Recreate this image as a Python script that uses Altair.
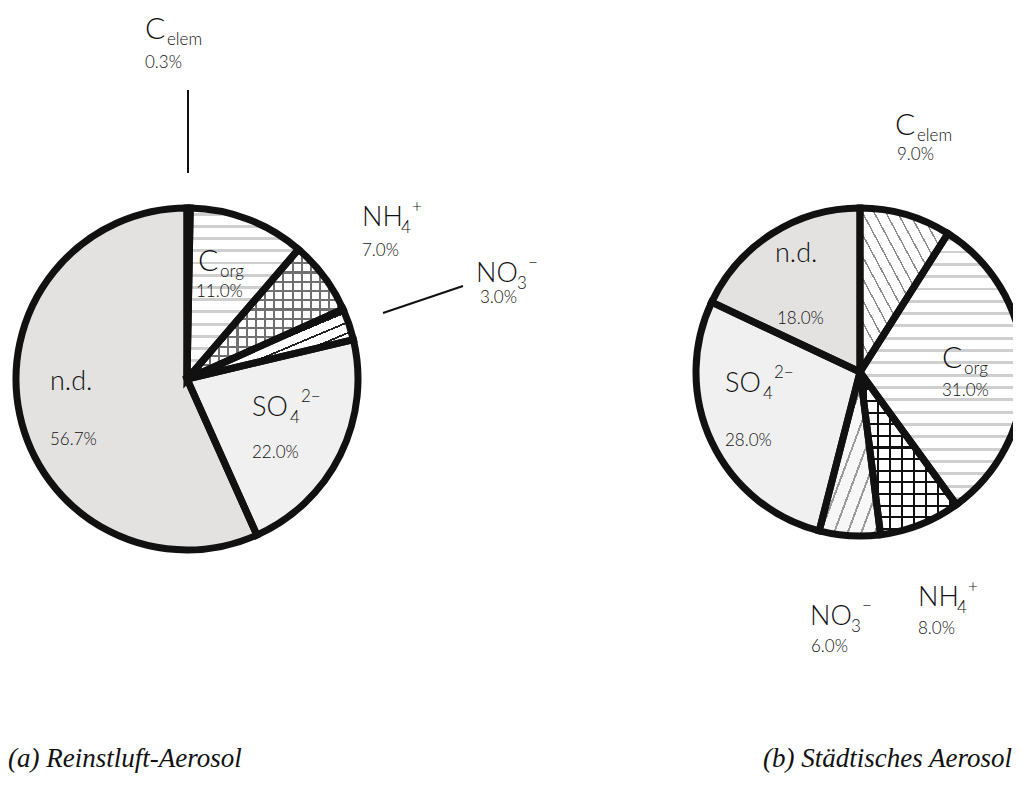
import math
import altair as alt
import pandas as pd

# ------------------------------------------------------------------ data
components = ["C_elem", "C_org", "NH4+", "NO3-", "SO4 2-", "n.d."]
reinstluft_pct = [0.3, 11.0, 7.0, 3.0, 22.0, 56.7]
staedtisch_pct = [9.0, 31.0, 8.0, 6.0, 28.0, 18.0]
panel_ids = ["a", "b"]
captions = ["(a) Reinstluft-Aerosol", "(b) Städtisches Aerosol"]

# label text split into main / subscript / superscript
label_parts = {
    "C_elem": ("C", "elem", ""),
    "C_org": ("C", "org", ""),
    "NH4+": ("NH", "4", "+"),
    "NO3-": ("NO", "3", "\u2212"),
    "SO4 2-": ("SO", "4", "2\u2212"),
    "n.d.": ("n.d.", "", ""),
}

rows = []
for pid, vals in zip(panel_ids, [reinstluft_pct, staedtisch_pct]):
    for i, (c, v) in enumerate(zip(components, vals)):
        rows.append({"panel": pid, "comp": c, "order": i, "value": v})
slices = pd.DataFrame(rows)

# ------------------------------------------------------------------ layout / style
W, H = 1005, 772
center = {"a": (179, 371), "b": (852, 364)}
radius = {"a": 171, "b": 164}
EDGE = "#111111"
EDGE_W = 7
SANS = "Lato"
TXT = "#111111"

# (main baseline-left anchor, percent baseline-left anchor)
label_pos = {
    ("a", "C_elem"): ((137, 31), (137, 60)),
    ("a", "C_org"): ((190, 263), (188, 289)),
    ("a", "NH4+"): ((354, 218), (354, 248)),
    ("a", "NO3-"): ((468, 274), (472, 295)),
    ("a", "SO4 2-"): ((244, 408), (244, 450)),
    ("a", "n.d."): ((42, 382), (42, 437)),
    ("b", "C_elem"): ((887, 127), (889, 152)),
    ("b", "C_org"): ((934, 360), (934, 388)),
    ("b", "NH4+"): ((910, 598), (910, 626)),
    ("b", "NO3-"): ((802, 617), (803, 644)),
    ("b", "SO4 2-"): ((717, 384), (717, 438)),
    ("b", "n.d."): ((767, 254), (769, 316)),
}
# offsets of sub / superscripts relative to the main text, and main font size
script_off = {
    "C": dict(size=30, sub=(22, 6), sup=(0, 0)),
    "NH": dict(size=27, sub=(39, 7), sup=(50, -14)),
    "NO": dict(size=27, sub=(41, 7), sup=(52, -14)),
    "SO": dict(size=27, sub=(38, 7), sup=(49, -14)),
    "n.d.": dict(size=27, sub=(0, 0), sup=(0, 0)),
}
SUB_SIZE = 17
PCT_SIZE = 17

caption_pos = [(0, 759), (755, 759)]
CAP_SIZE = 27
leaders = [((180, 82), (180, 165)), ((375, 305), (455, 278))]

# fill styles: base colour + list of stripe overlays (orientation, period px, line px, colour)
styles = {
    ("a", "C_elem"): ("#ffffff", []),
    ("a", "C_org"): ("#ffffff", [("h", 12.5, 3, "#cfcfcf")]),
    ("a", "NH4+"): ("#ffffff", [("h", 9, 2, "#707070"), ("v", 9, 2, "#707070")]),
    ("a", "NO3-"): ("#ffffff", [("/", 10, 1.8, "#222222")]),
    ("a", "SO4 2-"): ("#f0f0f0", []),
    ("a", "n.d."): ("#e3e2e1", []),
    ("b", "C_elem"): ("#ffffff", [("\\", 10, 1.4, "#8c8c8c")]),
    ("b", "C_org"): ("#ffffff", [("h", 12.5, 3, "#cfcfcf")]),
    ("b", "NH4+"): ("#ffffff", [("h", 12, 2.2, "#111111"), ("v", 12, 2.2, "#111111")]),
    ("b", "NO3-"): ("#f7f7f7", [("/", 13, 2, "#9a9a9a")]),
    ("b", "SO4 2-"): ("#f0f0f0", []),
    ("b", "n.d."): ("#e3e2e1", []),
}


def wedge_bbox(f0, f1, r):
    a0, a1 = f0 * 2 * math.pi, f1 * 2 * math.pi
    angs = [a0, a1] + [k * math.pi / 2 for k in range(5) if a0 < k * math.pi / 2 < a1]
    pts = [(0.0, 0.0)] + [(r * math.sin(a), -r * math.cos(a)) for a in angs]
    xs = [p[0] for p in pts]
    ys = [p[1] for p in pts]
    return max(max(xs) - min(xs), 1), max(max(ys) - min(ys), 1)


def stripe_gradient(orient, period, line, color, w, h):
    if orient == "h":
        vec = (0, 0, 0, 1)
        n = h / period
    elif orient == "v":
        vec = (0, 0, 1, 0)
        n = w / period
    elif orient == "/":
        vec = (0, 0, 1, 1)
        n = 2 / (period * math.sqrt(1 / w ** 2 + 1 / h ** 2))
    else:
        vec = (0, 1, 1, 0)
        n = 2 / (period * math.sqrt(1 / w ** 2 + 1 / h ** 2))
    n = max(int(round(n)), 1)
    frac = line / period
    clear = "rgba(255,255,255,0)"
    stops = []
    for i in range(n):
        a = (i + 0.5 - frac / 2) / n
        b = (i + 0.5 + frac / 2) / n
        stops += [
            {"offset": a, "color": clear},
            {"offset": a, "color": color},
            {"offset": b, "color": color},
            {"offset": b, "color": clear},
        ]
    return {"gradient": "linear", "x1": vec[0], "y1": vec[1], "x2": vec[2], "y2": vec[3], "stops": stops}


theta_scale = alt.Scale(domain=[0, 100], range=[0, 2 * math.pi])
base = alt.Chart(slices).transform_window(
    cum="sum(value)", groupby=["panel"], sort=[alt.SortField("order")], frame=[None, 0]
).transform_calculate(start="datum.cum - datum.value")


def arc_enc(chart, pid):
    return chart.encode(
        theta=alt.Theta("start:Q", scale=theta_scale, stack=None),
        theta2=alt.Theta2("cum:Q"),
        x=alt.value(center[pid][0]),
        y=alt.value(center[pid][1]),
    )


layers = []
for pid, vals in zip(panel_ids, [reinstluft_pct, staedtisch_pct]):
    cum = 0.0
    for comp, v in zip(components, vals):
        f0, f1 = cum / 100, (cum + v) / 100
        cum += v
        w, h = wedge_bbox(f0, f1, radius[pid])
        fill, overlays = styles[(pid, comp)]
        sel = base.transform_filter((alt.datum.panel == pid) & (alt.datum.comp == comp))
        layers.append(arc_enc(sel.mark_arc(radius=radius[pid], fill=fill), pid))
        for (o, per, ln, col) in overlays:
            g = stripe_gradient(o, per, ln, col, w, h)
            layers.append(arc_enc(sel.mark_arc(radius=radius[pid], fill=g), pid))
    outline = base.transform_filter(alt.datum.panel == pid).mark_arc(
        radius=radius[pid], fill="#ffffff", fillOpacity=0, stroke=EDGE, strokeWidth=EDGE_W
    )
    layers.append(arc_enc(outline, pid))

# leader lines
lead_df = pd.DataFrame(
    [{"x": a[0], "y": a[1], "x2": b[0], "y2": b[1]} for a, b in leaders]
)
layers.append(
    alt.Chart(lead_df).mark_rule(color=EDGE, strokeWidth=2).encode(
        x=alt.X("x:Q", scale=None, axis=None),
        y=alt.Y("y:Q", scale=None, axis=None),
        x2="x2:Q",
        y2="y2:Q",
    )
)

# labels
lab_rows = []
for pid, vals in zip(panel_ids, [reinstluft_pct, staedtisch_pct]):
    for comp, v in zip(components, vals):
        (mx, my), (px, py) = label_pos[(pid, comp)]
        main, sub, sup = label_parts[comp]
        off = script_off[main]
        lab_rows.append({"text": main, "x": mx, "y": my, "size": off["size"]})
        if sub:
            lab_rows.append({"text": sub, "x": mx + off["sub"][0], "y": my + off["sub"][1], "size": SUB_SIZE})
        if sup:
            lab_rows.append({"text": sup, "x": mx + off["sup"][0], "y": my + off["sup"][1], "size": SUB_SIZE})
        lab_rows.append({"text": f"{v:.1f}%", "x": px, "y": py, "size": PCT_SIZE})
lab_df = pd.DataFrame(lab_rows)
layers.append(
    alt.Chart(lab_df).mark_text(
        align="left", baseline="alphabetic", font=SANS, fontWeight=300, color=TXT
    ).encode(
        x=alt.X("x:Q", scale=None, axis=None),
        y=alt.Y("y:Q", scale=None, axis=None),
        text="text:N",
        size=alt.Size("size:Q", scale=None, legend=None),
    )
)

cap_df = pd.DataFrame(
    [{"text": t, "x": p[0], "y": p[1]} for t, p in zip(captions, caption_pos)]
)
layers.append(
    alt.Chart(cap_df).mark_text(
        align="left", baseline="alphabetic", font="Liberation Serif", fontStyle="italic",
        fontSize=CAP_SIZE, color="#111111"
    ).encode(
        x=alt.X("x:Q", scale=None, axis=None),
        y=alt.Y("y:Q", scale=None, axis=None),
        text="text:N",
    )
)

chart = alt.layer(*layers).properties(
    width=W, height=H, padding=0, autosize=alt.AutoSizeParams(type="none")
).configure_view(stroke=None)

chart.save("out.html", embed_options={"renderer": "svg", "actions": False})
